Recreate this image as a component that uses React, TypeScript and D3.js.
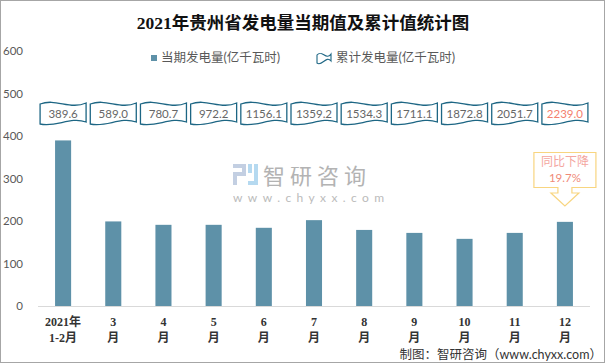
import React from "react";
import * as d3 from "d3";

const months = ["1-2", "3", "4", "5", "6", "7", "8", "9", "10", "11", "12"];
const monthLine1 = ["2021年", "3", "4", "5", "6", "7", "8", "9", "10", "11", "12"];
const monthLine2 = ["1-2月", "月", "月", "月", "月", "月", "月", "月", "月", "月", "月"];
const currentValues = [389.6, 199, 191, 191, 184, 202, 179, 172, 158, 172, 198];
const cumulativeValues = [389.6, 589.0, 780.7, 972.2, 1156.1, 1359.2, 1534.3, 1711.1, 1872.8, 2051.7, 2239.0];
const yTicks = [0, 100, 200, 300, 400, 500, 600];

const W = 605;
const H = 363;
const SANS = 'Lato, "Noto Sans CJK SC", sans-serif';
const SERIF = '"Liberation Serif", "Noto Sans CJK SC", serif';
const BAR = "#5e91a8";
const FLAG = "#1d6684";

// wavy banner path, Excel style
const wavePath = (x0: number, t: number, w: number, h: number) => {
  const top = `M${x0},${t + 2} C${x0 + w * 0.35},${t - 4} ${x0 + w * 0.65},${t + 8} ${x0 + w},${t + 1}`;
  const b = t + h;
  return `${top} L${x0 + w},${b - 1} C${x0 + w * 0.65},${b - 7} ${x0 + w * 0.35},${b + 5} ${x0},${b + 1} Z`;
};

const App = () => {
  const x = d3.scaleBand<string>().domain(months).range([38, 590]).paddingInner(0.68).paddingOuter(0.34);
  const y = d3.scaleLinear().domain([0, 600]).range([306, 51]);
  const cx = (m: string) => (x(m) as number) + x.bandwidth() / 2;
  const fmt = d3.format(".1f");
  const last = months[months.length - 1];

  return (
    <svg width={W} height={H} style={{ position: "absolute", left: 0, top: 0, background: "#fff" }}>
      <rect x={0.5} y={0.5} width={W - 1} height={H - 1} fill="#fff" stroke="#a6a6a6" />

      <text x={303} y={29} textAnchor="middle" fontFamily={SERIF} fontWeight="bold" fontSize={17.5} fill="#111">
        2021年贵州省发电量当期值及累计值统计图
      </text>

      {/* legend */}
      <rect x={151} y={55} width={6} height={6} fill={BAR} />
      <text x={161} y={62} fontFamily={SANS} fontSize={12.5} fill="#595959">当期发电量(亿千瓦时)</text>
      <path d={wavePath(317, 53, 14, 9)} fill="#fff" stroke={FLAG} strokeWidth={1.1} />
      <text x={336} y={62} fontFamily={SANS} fontSize={12.5} fill="#595959">累计发电量(亿千瓦时)</text>

      {/* watermark */}
      <g opacity={0.85}>
        <rect x={233} y={164} width={13} height={4} fill="#b9c7de" />
        <rect x={242} y={164} width={4} height={11} fill="#b9c7de" />
        <rect x={233} y={172} width={13} height={4} fill="#b9c7de" />
        <rect x={233} y={172} width={4} height={13} fill="#b9c7de" />
        <rect x={248} y={164} width={4} height={9} fill="#a9d3ee" />
        <rect x={248} y={181} width={10} height={4} fill="#a9d3ee" />
        <rect x={254} y={164} width={4} height={21} fill="#a9d3ee" />
        <text x={263} y={184} fontFamily={SANS} fontSize={22} letterSpacing={5} fill="#a6a6a6">智研咨询</text>
        <text x={233} y={202} fontFamily={SANS} fontSize={12} letterSpacing={5.4} fill="#b0b0b0">www.chyxx.com</text>
      </g>

      {/* y axis labels */}
      {yTicks.map((t) => (
        <text key={t} x={23} y={y(t) + 4} textAnchor="end" fontFamily={SANS} fontSize={11.5} fill="#595959">{t}</text>
      ))}

      {/* bars */}
      {months.map((m, i) => (
        <rect key={m} x={x(m)} y={y(currentValues[i])} width={x.bandwidth()} height={y(0) - y(currentValues[i])} fill={BAR} />
      ))}
      <line x1={38} x2={590} y1={306.5} y2={306.5} stroke="#d9d9d9" />

      {/* cumulative banners */}
      {months.map((m, i) => (
        <g key={m}>
          <path d={wavePath(cx(m) - 23, 102, 46, 21)} fill="#fff" stroke={FLAG} strokeWidth={1.3} />
          <text x={cx(m)} y={118} textAnchor="middle" fontFamily={SANS} fontSize={11.5} fill={i === months.length - 1 ? "#f4806e" : "#666"}>
            {fmt(cumulativeValues[i])}
          </text>
        </g>
      ))}

      {/* callout */}
      <path
        d={`M${cx(last) - 31},152.5 H${cx(last) + 31} V187.5 H${cx(last) + 7} V193 H${cx(last) + 14} L${cx(last)},206 L${cx(last) - 14},193 H${cx(last) - 7} V187.5 H${cx(last) - 31} Z`}
        fill="#fff"
        stroke="#f8d580"
        strokeWidth={1.2}
      />
      <text x={cx(last)} y={166} textAnchor="middle" fontFamily={SANS} fontSize={12} fill="#f4a6a0">同比下降</text>
      <text x={cx(last)} y={182} textAnchor="middle" fontFamily={SANS} fontSize={11.5} fill="#f08a78">19.7%</text>

      {/* x labels */}
      {months.map((m, i) => (
        <g key={m} fontFamily={SERIF} fontWeight="bold" fontSize={12} fill="#333" textAnchor="middle">
          <text x={cx(m)} y={326}>{monthLine1[i]}</text>
          <text x={cx(m)} y={342}>{monthLine2[i]}</text>
        </g>
      ))}

      <text x={602} y={359} textAnchor="end" fontFamily={SANS} fontSize={12.5} fill="#333">制图：智研咨询（www.chyxx.com）</text>
    </svg>
  );
};

export default App;
